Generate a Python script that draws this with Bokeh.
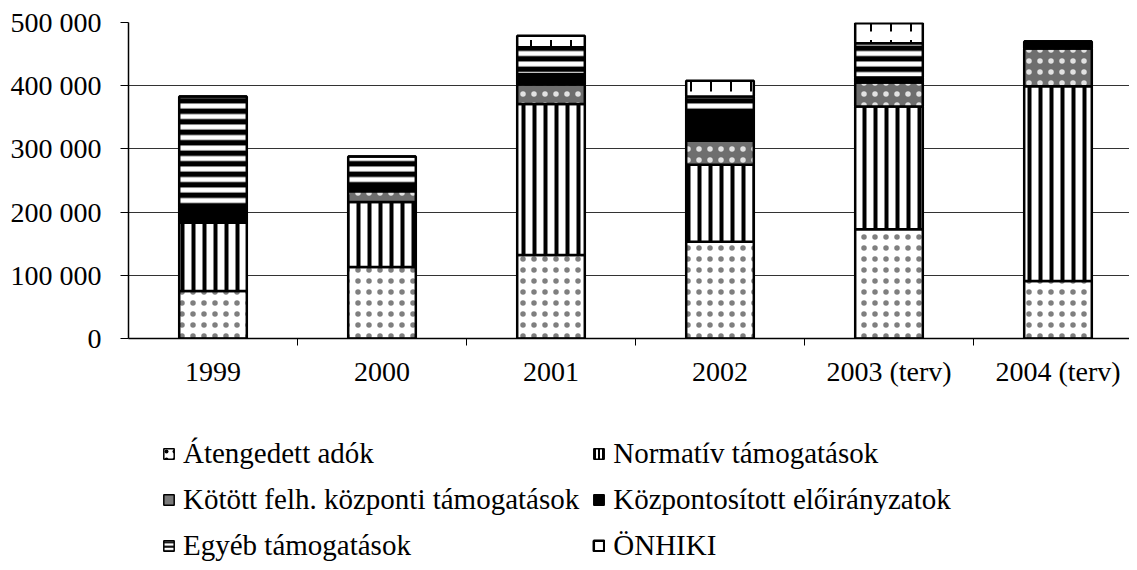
import numpy as np
from bokeh.plotting import figure
from bokeh.layouts import column
from bokeh.models import FixedTicker, Legend, LegendItem, ColumnDataSource
from bokeh.embed import file_html
from bokeh.resources import INLINE

years = ["1999", "2000", "2001", "2002", "2003 (terv)", "2004 (terv)"]
atengedett = [75000, 113000, 132000, 153000, 173000, 91000]
normativ = [108000, 103000, 239000, 122000, 194000, 308000]
kotott = [0, 17000, 31000, 38000, 38000, 60000]
kozpontositott = [24000, 10000, 16000, 42000, 8000, 11000]
egyeb = [176000, 45000, 43000, 28000, 54000, 0]
onhiki = [0, 0, 18000, 25000, 32000, 0]

series_names = ["Átengedett adók", "Normatív támogatások",
                "Kötött felh. központi támogatások", "Központosított előirányzatok",
                "Egyéb támogatások", "ÖNHIKI"]
series = [atengedett, normativ, kotott, kozpontositott, egyeb, onhiki]
yticks = [0, 100000, 200000, 300000, 400000, 500000]
ytick_labels = ["0", "100 000", "200 000", "300 000", "400 000", "500 000"]

styles = [
    dict(fill_color="white", hatch_pattern="dot", hatch_color="black", hatch_alpha=0.5,
         hatch_scale=11, hatch_weight=0.6),
    dict(fill_color="white", hatch_pattern="vertical_line", hatch_color="black", hatch_scale=11, hatch_weight=4),
    dict(fill_color="#6e6e6e", hatch_pattern="dot", hatch_color="white", hatch_alpha=0.8,
         hatch_scale=11, hatch_weight=1),
    dict(fill_color="black"),
    dict(fill_color="white", hatch_pattern="horizontal_line", hatch_color="black", hatch_scale=10.5, hatch_weight=5.5),
    dict(fill_color="white", hatch_pattern="vertical_dash", hatch_color="black", hatch_scale=20, hatch_weight=2),
]
legend_styles = [
    dict(fill_color="white", hatch_pattern="dot", hatch_color="black", hatch_scale=8, hatch_weight=1),
    dict(fill_color="white", hatch_pattern="vertical_line", hatch_color="black", hatch_scale=4, hatch_weight=2),
    dict(fill_color="#7a7a7a"),
    dict(fill_color="black"),
    dict(fill_color="white", hatch_pattern="horizontal_line", hatch_color="black", hatch_scale=4.5, hatch_weight=2),
    dict(fill_color="white"),
]

FONT = "Liberation Serif"
W = 1129
x = np.arange(len(years)) + 0.5

p = figure(width=W, height=420, output_backend="svg", toolbar_location=None,
           x_range=(0, (W - 128) / 169), y_range=(0, 500000),
           min_border_left=128, min_border_right=0, min_border_top=22, min_border_bottom=82)
p.outline_line_color = None

bottom = np.zeros(len(years))
for name, vals, st in zip(series_names, series, styles):
    vals = np.array(vals, dtype=float)
    top = bottom + vals
    p.vbar(x=x, bottom=bottom, top=top, width=0.40, line_color="black", line_width=2.5, **st)
    bottom = top

p.xaxis.ticker = FixedTicker(ticks=list(x), minor_ticks=list(np.arange(1, len(years))))
p.xaxis.major_label_overrides = {float(v): lab for v, lab in zip(x, years)}
p.xaxis.major_tick_line_color = None
p.xaxis.minor_tick_out = 7
p.xaxis.minor_tick_in = 0
p.xaxis.minor_tick_line_color = "black"
p.xaxis.minor_tick_line_width = 1
p.xaxis.axis_line_color = "black"
p.xaxis.axis_line_width = 1.5
p.xaxis.major_label_text_font = FONT
p.xaxis.major_label_text_font_size = "28px"
p.xaxis.major_label_text_color = "black"
p.xaxis.major_label_standoff = 10

p.yaxis.ticker = FixedTicker(ticks=yticks, minor_ticks=[])
p.yaxis.major_label_overrides = {v: lab for v, lab in zip(yticks, ytick_labels)}
p.yaxis.major_tick_out = 8
p.yaxis.major_tick_in = 0
p.yaxis.major_tick_line_color = "black"
p.yaxis.axis_line_color = "black"
p.yaxis.axis_line_width = 1.5
p.yaxis.major_label_text_font = FONT
p.yaxis.major_label_text_font_size = "28px"
p.yaxis.major_label_text_color = "black"
p.yaxis.major_label_standoff = 19

p.xgrid.grid_line_color = None
p.ygrid.grid_line_color = "#333333"
p.ygrid.grid_line_width = 1

# legend panel (frames are aligned with the main plot by the column layout)
p2 = figure(width=W, height=142, output_backend="svg", toolbar_location=None,
            x_range=(0, 1), y_range=(0, 1), x_axis_location=None, y_axis_location=None,
            min_border_left=0, min_border_right=0, min_border_top=0, min_border_bottom=0)
p2.grid.visible = False
p2.outline_line_color = None
items = []
for name, st in zip(series_names, legend_styles):
    src = ColumnDataSource(dict(x=[5.0], top=[0.0]))
    lw = 2.5 if name == "ÖNHIKI" else 1.5
    r = p2.vbar(x="x", top="top", width=0.1, source=src, line_color="black", line_width=lw, **st)
    items.append(LegendItem(label=name, renderers=[r], index=0))

legend = Legend(items=items, ncols=2, orientation="horizontal", location=(34, 0),
                label_text_font=FONT, label_text_font_size="29px", label_text_color="black",
                glyph_width=13, glyph_height=13, label_standoff=8, spacing=13,
                padding=0, margin=0, border_line_color=None, background_fill_alpha=0)
p2.add_layout(legend, "center")

layout = column(p, p2, spacing=0)
open("out.html", "w").write(file_html(layout, INLINE))
